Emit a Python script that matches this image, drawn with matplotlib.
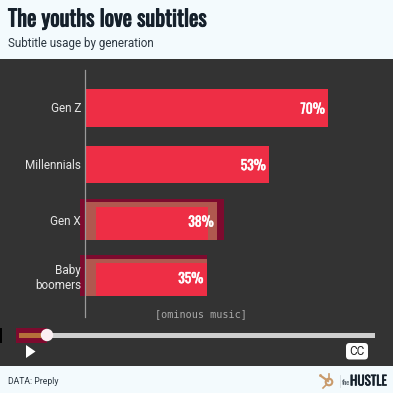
import matplotlib
matplotlib.use("Agg")
import matplotlib.pyplot as plt
import matplotlib.patheffects as pe
from matplotlib.patches import Rectangle, FancyBboxPatch, Circle, Polygon

generations = ["Gen Z", "Millennials", "Gen X", "Baby\nboomers"]
usage = [70, 53, 38, 35]

RED = "#EE2E45"
DARK = "#333333"
LIGHT = "#F3FAFD"
MAROON = "#7D0A2E"
TAN = "#B0584F"
INK = "#15202B"
CONDENSED = ["Oswald", "Barlow Condensed", "DejaVu Sans"]

fig = plt.figure(figsize=(3.93, 3.93), dpi=100, facecolor=LIGHT)


def thicken(color, w=0.55):
    # the condensed font only comes in one weight here
    return [pe.withStroke(linewidth=w, foreground=color)]


# background layer in pixel coordinates, y going down
bg = fig.add_axes([0, 0, 1, 1])
bg.set_xlim(0, 393)
bg.set_ylim(393, 0)
bg.axis("off")
bg.add_patch(Rectangle((0, 59), 393, 307, fc=DARK, ec="none"))
bg.add_patch(Rectangle((0, 328), 1.5, 15, fc="black", ec="none"))

bg.text(8, 19.5, "The youths love subtitles", family=CONDENSED,
        weight="bold", size=16, color=INK, va="center", ha="left",
        path_effects=thicken(INK, 0.7))
bg.text(8, 43, "Subtitle usage by generation", family="Roboto", size=8.4,
        color="#2B3640", va="center", ha="left")
bg.text(8, 381, "DATA: Preply", family="Roboto", size=6.2, color="#2B3640",
        va="center", ha="left")

# bars
ax = fig.add_axes([85.3 / 393, (393 - 305) / 393, 347 / 393, 225 / 393])
ax.patch.set_alpha(0)
ax.set_xlim(0, 100)
ax.set_ylim(3.487, -0.496)
for s in ax.spines.values():
    s.set_visible(False)
ax.set_xticks([])
ax.set_yticks([])

ypos = [0, 1, 2, 3]
bar_h = 0.664

# glitchy maroon subtitle boxes behind the two older generations
for i, extra in ((2, 3.6), (3, 1.6)):
    ax.barh(ypos[i] - 0.03, usage[i] + extra, left=-1.6, height=bar_h + 0.06,
            color=MAROON, zorder=1, clip_on=False)
ax.barh(ypos, usage, height=bar_h, color=RED, zorder=2)

# tan bands where the overlay crosses the red
for i in (2, 3):
    ax.barh(ypos[i] - bar_h / 2 + 0.04, usage[i], height=0.08, color=TAN, zorder=3)
    ax.barh(ypos[i], 3.0, left=0, height=bar_h, color=TAN, zorder=3)
ax.barh(ypos[2], 2.6, left=usage[2] - 2.6, height=bar_h, color=TAN, zorder=3)

for y, v in zip(ypos, usage):
    ax.text(v - 1, y + 0.02, f"{v}%", family=CONDENSED, weight="bold",
            size=9.8, color="white", ha="right", va="center", zorder=5,
            path_effects=thicken("white", 0.35))
for y, g in zip(ypos, generations):
    ax.text(-1.2, y + 0.01, g, family="Roboto", size=8.5, color="#E6E6E6", ha="right",
            va="center", linespacing=1.15, clip_on=False, zorder=5)

# axis line and player controls drawn on top
top = fig.add_axes([0, 0, 1, 1])
top.set_xlim(0, 393)
top.set_ylim(393, 0)
top.axis("off")
top.patch.set_alpha(0)
top.plot([85.2, 85.2], [70, 317], color="#9A9A9A", lw=0.9)
top.text(200.5, 314, "[ominous music]", family="DejaVu Sans Mono", size=7.3,
         color="#A8A8A8", ha="center", va="center")

top.add_patch(Rectangle((16, 328), 31, 15, fc=MAROON, ec="none"))
top.add_patch(Rectangle((19, 333), 26, 5, fc="#B5703A", ec="none"))
top.add_patch(Rectangle((47, 332.5), 327.5, 5.5, fc="#CFCFCF", ec="none"))
top.add_patch(Circle((47, 335), 6.2, fc="#FBEFF3", ec="none", zorder=4))
top.add_patch(Polygon([(26, 345), (35.5, 351.5), (26, 358)], fc="white", ec="none"))
top.add_patch(FancyBboxPatch((348, 345), 18, 12.5, boxstyle="round,pad=2,rounding_size=3.5",
                             fc="white", ec="none"))
top.text(357, 351.2, "CC", family="Roboto", size=8.5, color="#222222", ha="center", va="center")

# hubspot-ish sprocket and wordmark
ORANGE = "#C99A6B"
top.plot([321, 328], [376, 381], color=ORANGE, lw=1.6)
top.plot([329, 329], [374, 379], color=ORANGE, lw=1.2)
top.plot([323, 326], [388, 385], color=ORANGE, lw=1.2)
top.add_patch(Circle((329, 382), 3.3, fc="none", ec=ORANGE, lw=1.5))
top.add_patch(Circle((320.5, 375.5), 1.4, fc=ORANGE, ec="none"))
top.plot([340, 340], [375, 387], color="#D5DCE0", lw=0.6)
top.text(342, 382.5, "the", family=CONDENSED, size=5, color="#3A4650",
         ha="left", va="center")
top.text(350, 381, "HUSTLE", family=CONDENSED, weight="bold", size=9.5,
         color=INK, ha="left", va="center", path_effects=thicken(INK, 0.4))

fig.savefig("out.png", dpi=100, facecolor=fig.get_facecolor())
